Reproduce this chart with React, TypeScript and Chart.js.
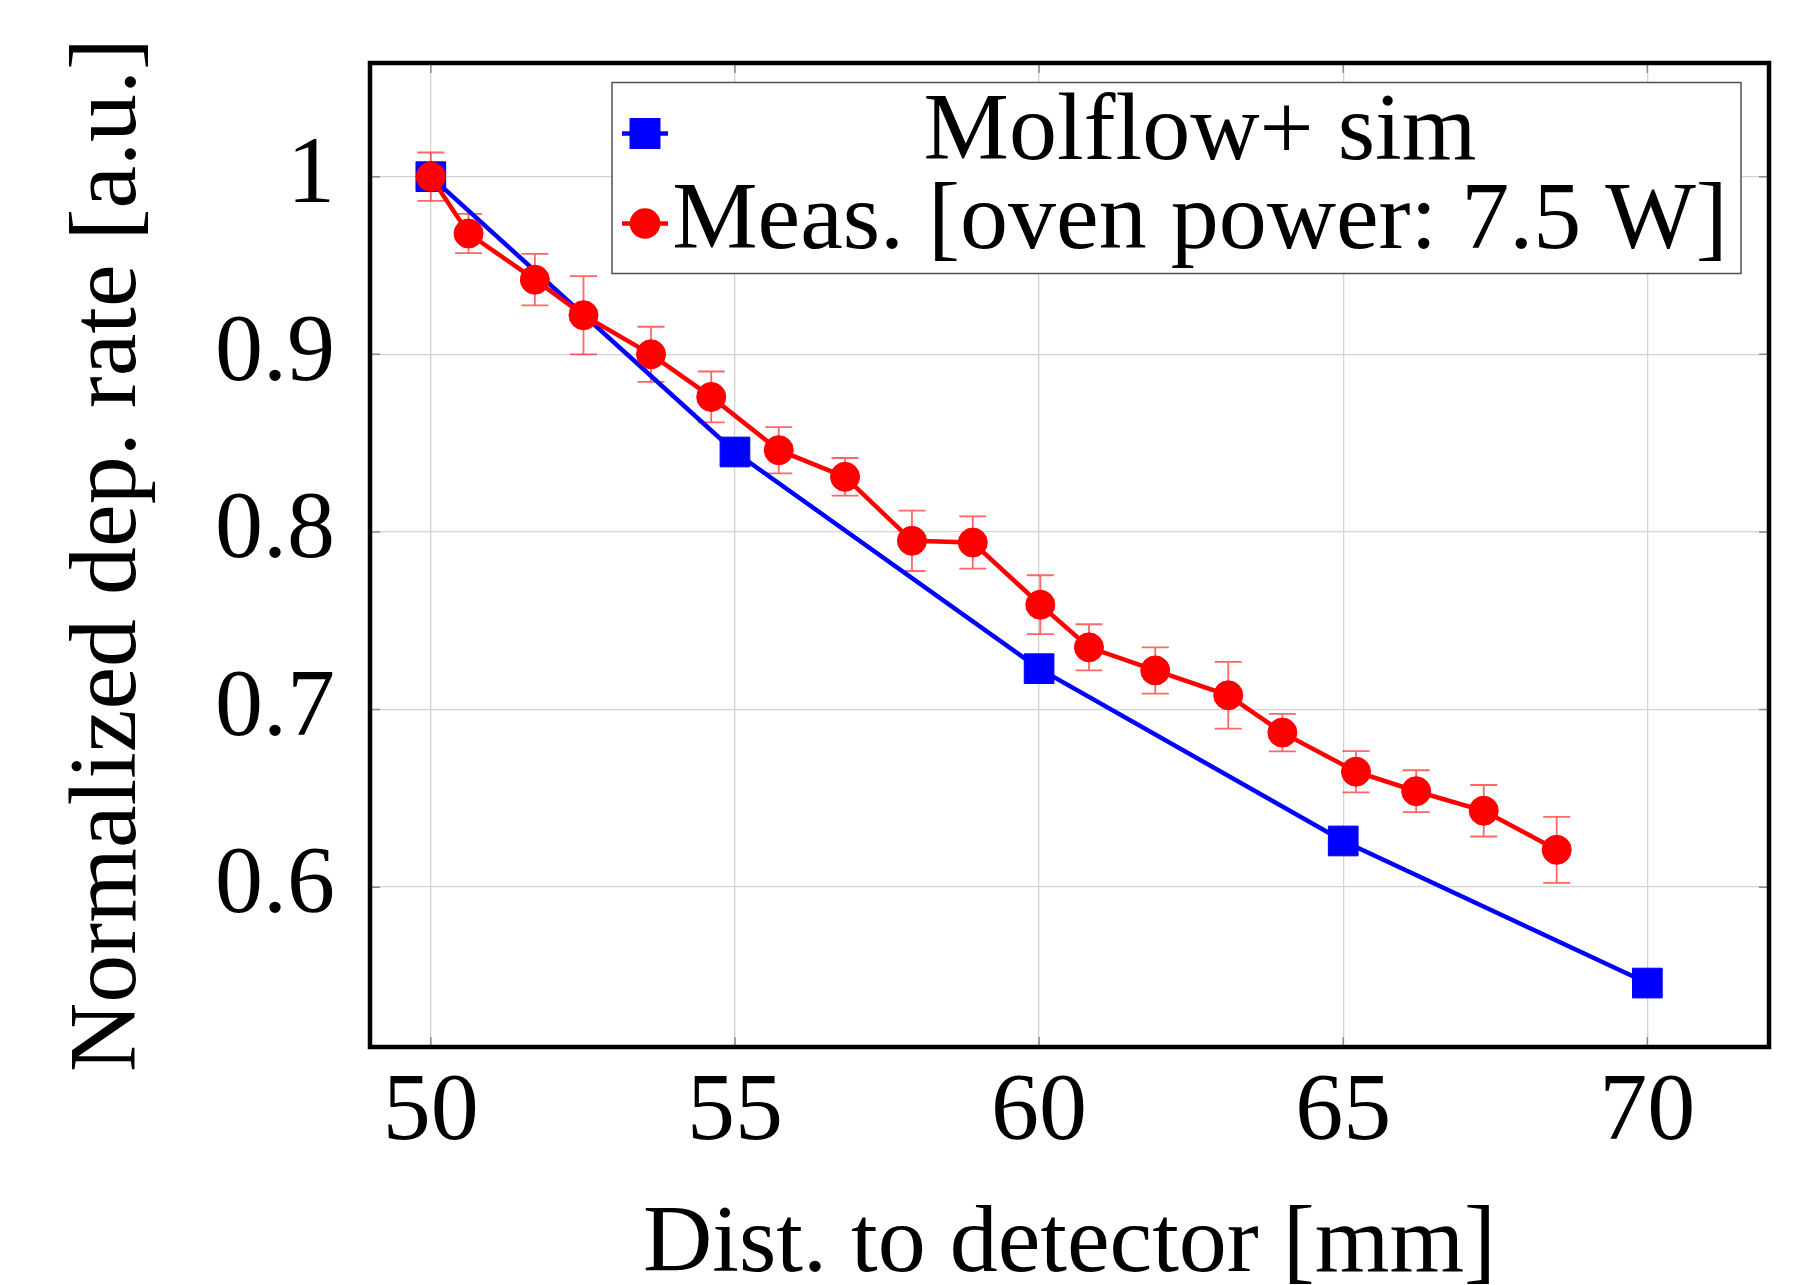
import React, { useEffect, useRef } from "react";
import { Chart, registerables } from "chart.js";

Chart.register(...registerables);

const simLabel = "Molflow+ sim";
const measLabel = "Meas. [oven power: 7.5 W]";
const xTitle = "Dist. to detector [mm]";
const yTitle = "Normalized dep. rate [a.u.]";

const xTicks = [50, 55, 60, 65, 70];
const yTicks = [0.6, 0.7, 0.8, 0.9, 1.0];

const simX = [50, 55, 60, 65, 70];
const simY = [1.0, 0.845, 0.723, 0.626, 0.546];

const measX = [50.0, 50.62, 51.71, 52.51, 53.62, 54.61, 55.72, 56.81, 57.91, 58.91, 60.02, 60.82, 61.91, 63.11, 64.0, 65.21, 66.2, 67.31, 68.51];
const measY = [1.0, 0.968, 0.942, 0.922, 0.9, 0.876, 0.846, 0.831, 0.795, 0.794, 0.759, 0.735, 0.722, 0.708, 0.687, 0.665, 0.654, 0.643, 0.621];
const measErr = [0.0136, 0.011, 0.0145, 0.022, 0.0155, 0.0143, 0.013, 0.0106, 0.017, 0.0147, 0.0166, 0.013, 0.013, 0.0188, 0.0106, 0.0116, 0.0118, 0.0145, 0.0186];

const FONT = '"Liberation Serif", "Times New Roman", serif';
const BLUE = "#0000ff";
const RED = "#ff0000";

const decorPlugin = {
  id: "decor",
  beforeDatasetsDraw(chart: any) {
    const { ctx } = chart;
    const xs = chart.scales.x;
    const ys = chart.scales.y;
    ctx.save();
    ctx.strokeStyle = "rgba(255,0,0,0.6)";
    ctx.lineWidth = 1.8;
    for (let i = 0; i < measX.length; i++) {
      const px = xs.getPixelForValue(measX[i]);
      const y1 = ys.getPixelForValue(measY[i] + measErr[i]);
      const y2 = ys.getPixelForValue(measY[i] - measErr[i]);
      ctx.beginPath();
      ctx.moveTo(px, y1);
      ctx.lineTo(px, y2);
      ctx.moveTo(px - 13.5, y1);
      ctx.lineTo(px + 13.5, y1);
      ctx.moveTo(px - 13.5, y2);
      ctx.lineTo(px + 13.5, y2);
      ctx.stroke();
    }
    ctx.restore();
  },
  afterDatasetsDraw(chart: any) {
    const { ctx, chartArea } = chart;
    const xs = chart.scales.x;
    const ys = chart.scales.y;
    ctx.save();
    // inward tick marks
    ctx.strokeStyle = "#8a8a8a";
    ctx.lineWidth = 1.5;
    ctx.beginPath();
    for (const t of xTicks) {
      const px = xs.getPixelForValue(t);
      ctx.moveTo(px, chartArea.bottom);
      ctx.lineTo(px, chartArea.bottom - 10);
      ctx.moveTo(px, chartArea.top);
      ctx.lineTo(px, chartArea.top + 10);
    }
    for (const t of yTicks) {
      const py = ys.getPixelForValue(t);
      ctx.moveTo(chartArea.left, py);
      ctx.lineTo(chartArea.left + 10, py);
      ctx.moveTo(chartArea.right, py);
      ctx.lineTo(chartArea.right - 10, py);
    }
    ctx.stroke();

    // legend
    const lx = chartArea.left + 242;
    const ly = chartArea.top + 19.5;
    const lw = 1129;
    const lh = 191;
    ctx.fillStyle = "#ffffff";
    ctx.fillRect(lx, ly, lw, lh);
    ctx.strokeStyle = "#505050";
    ctx.lineWidth = 1.5;
    ctx.strokeRect(lx, ly, lw, lh);

    const mx = lx + 33;
    const r1 = ly + 51;
    const r2 = ly + 141;
    ctx.lineWidth = 4.5;
    ctx.strokeStyle = BLUE;
    ctx.beginPath();
    ctx.moveTo(mx - 23, r1);
    ctx.lineTo(mx + 23, r1);
    ctx.stroke();
    ctx.fillStyle = BLUE;
    ctx.fillRect(mx - 15.5, r1 - 15.5, 31, 31);

    ctx.strokeStyle = RED;
    ctx.beginPath();
    ctx.moveTo(mx - 23, r2);
    ctx.lineTo(mx + 23, r2);
    ctx.stroke();
    ctx.fillStyle = RED;
    ctx.beginPath();
    ctx.arc(mx, r2, 15.3, 0, Math.PI * 2);
    ctx.fill();

    ctx.fillStyle = "#000000";
    ctx.font = `96px ${FONT}`;
    ctx.textAlign = "center";
    ctx.textBaseline = "alphabetic";
    const tc = lx + 588;
    ctx.fillText(simLabel, tc, ly + 76.5);
    ctx.fillText(measLabel, tc, ly + 165.5);
    ctx.restore();
  },
  afterDraw(chart: any) {
    const { ctx, chartArea } = chart;
    ctx.save();
    ctx.strokeStyle = "#000000";
    ctx.lineWidth = 4.5;
    ctx.strokeRect(chartArea.left, chartArea.top, chartArea.right - chartArea.left, chartArea.bottom - chartArea.top);
    ctx.restore();
  },
};

export default function App() {
  const ref = useRef<HTMLCanvasElement | null>(null);

  useEffect(() => {
    if (!ref.current) return;
    const chart = new Chart(ref.current, {
      type: "scatter",
      data: {
        datasets: [
          {
            label: simLabel,
            data: simX.map((x, i) => ({ x, y: simY[i] })),
            showLine: true,
            borderColor: BLUE,
            backgroundColor: BLUE,
            borderWidth: 4.5,
            pointStyle: "rect",
            pointRadius: 21,
            pointBorderWidth: 1,
            pointBackgroundColor: BLUE,
            pointBorderColor: BLUE,
            order: 1,
          },
          {
            label: measLabel,
            data: measX.map((x, i) => ({ x, y: measY[i] })),
            showLine: true,
            borderColor: RED,
            backgroundColor: RED,
            borderWidth: 4.5,
            pointStyle: "circle",
            pointRadius: 14.5,
            pointBorderWidth: 1,
            pointBackgroundColor: RED,
            pointBorderColor: RED,
            order: 0,
          },
        ],
      },
      options: {
        animation: false,
        responsive: false,
        devicePixelRatio: 1,
        events: [],
        layout: { padding: { top: 63, right: 40, left: 0, bottom: 0 } },
        plugins: {
          legend: { display: false },
          tooltip: { enabled: false },
        },
        scales: {
          x: {
            type: "linear",
            min: 49,
            max: 72,
            afterBuildTicks: (s: any) => {
              s.ticks = xTicks.map((v) => ({ value: v }));
            },
            afterFit: (s: any) => {
              s.height = 253;
              s.paddingLeft = 0;
              s.paddingRight = 0;
            },
            grid: { color: "#d2d2d2", lineWidth: 1.3, drawTicks: false },
            border: { display: false },
            ticks: {
              padding: 9,
              color: "#000",
              font: { family: FONT, size: 96 },
              maxRotation: 0,
              callback: (v: any) => String(v),
            },
            title: {
              display: true,
              text: xTitle,
              color: "#000",
              font: { family: FONT, size: 96 },
              padding: { top: 0, bottom: -3 },
            },
          },
          y: {
            type: "linear",
            min: 0.51,
            max: 1.064,
            afterBuildTicks: (s: any) => {
              s.ticks = yTicks.map((v) => ({ value: v }));
            },
            afterFit: (s: any) => {
              s.width = 370;
              s.paddingTop = 0;
              s.paddingBottom = 0;
            },
            grid: { color: "#d2d2d2", lineWidth: 1.3, drawTicks: false },
            border: { display: false },
            ticks: {
              padding: 35,
              color: "#000",
              font: { family: FONT, size: 96 },
              callback: (v: any) => String(Math.round(Number(v) * 10) / 10),
            },
            title: {
              display: true,
              text: yTitle,
              color: "#000",
              font: { family: FONT, size: 96 },
              padding: { top: 52, bottom: 0 },
            },
          },
        },
      },
      plugins: [decorPlugin],
    } as any);
    return () => chart.destroy();
  }, []);

  return (
    <div
      style={{
        position: "fixed",
        left: 0,
        top: 0,
        width: 1809,
        height: 1285,
        overflow: "hidden",
        background: "#ffffff",
      }}
    >
      <canvas ref={ref} width={1809} height={1300} style={{ display: "block" }} />
    </div>
  );
}
